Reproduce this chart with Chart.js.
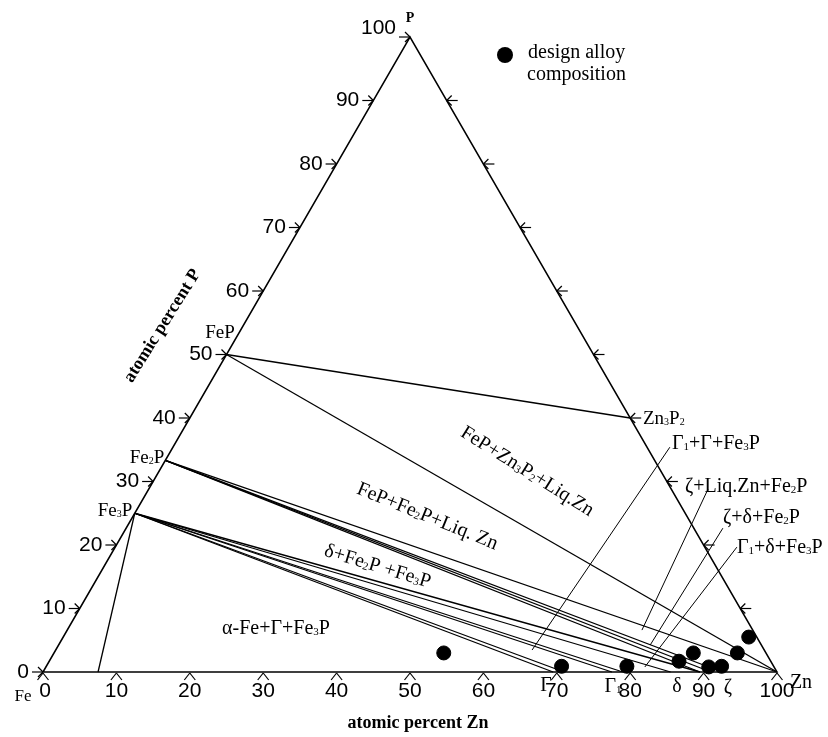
<!DOCTYPE html>
<html>
<head>
<meta charset="utf-8">
<script src="https://cdn.jsdelivr.net/npm/chart.js@4.4.1/dist/chart.umd.min.js"></script>
<style>
html, body { margin: 0; background: #fff; }
</style>
</head>
<body>
<canvas id="ternary" width="828" height="737"></canvas>
<script>
// compositions are [at.% Zn, at.% P], Fe makes up the rest
const corners = [[0, 0], [100, 0], [0, 100]];
const FeP = [0, 50];
const Fe2P = [0, 100 / 3];
const Fe3P = [0, 25];
const Zn3P2 = [60, 40];

// Zn content (on the Fe-Zn side) that each tie line from Fe3P / Fe2P runs to
const fe3pTies = [7.5, 69.5, 71, 77.5, 79, 85.5, 89.5];
const fe2pTies = [89.5, 91, 92.5, 100];

// leader lines from the right-hand labels into their regions
const leaderFromZn = [67.7, 76.2, 81.3, 84.7];
const leaderFromP = [35.4, 28.8, 22.65, 19.66];
const leaderToZn = [64.9, 78.3, 80.6, 81.6];
const leaderToP = [3.46, 6.6, 4.25, 0.79];

// design alloy compositions
const alloyZn = [53.1, 70.2, 79.1, 85.8, 87.1, 90.3, 92.0, 93.1, 93.4];
const alloyP = [3.0, 0.9, 0.9, 1.7, 3.0, 0.8, 0.9, 3.0, 5.5];

const tickValues = [0, 10, 20, 30, 40, 50, 60, 70, 80, 90, 100];

const H = Math.sqrt(3) / 2;
const SERIF = '"Liberation Serif", "Times New Roman", serif';
const SANS = '"Liberation Sans", Arial, sans-serif';

function xy(c) {
    return { x: c[0] + c[1] / 2, y: c[1] * H };
}

function seg(a, b) {
    return {
        type: 'scatter',
        showLine: true,
        data: [xy(a), xy(b)],
        borderColor: '#000',
        borderWidth: 1.3,
        pointRadius: 0,
        clip: false
    };
}

const datasets = [];
datasets.push({
    type: 'scatter',
    showLine: true,
    data: [xy(corners[0]), xy(corners[1]), xy(corners[2]), xy(corners[0])],
    borderColor: '#000',
    borderWidth: 1.5,
    pointRadius: 0,
    clip: false
});
datasets.push(seg(FeP, Zn3P2));
datasets.push(seg(FeP, corners[1]));
fe3pTies.forEach(z => datasets.push(seg(Fe3P, [z, 0])));
fe2pTies.forEach(z => datasets.push(seg(Fe2P, [z, 0])));
leaderFromZn.forEach((z, i) => {
    const d = seg([z, leaderFromP[i]], [leaderToZn[i], leaderToP[i]]);
    d.borderWidth = 1;
    datasets.push(d);
});
datasets.push({
    type: 'scatter',
    data: alloyZn.map((z, i) => xy([z, alloyP[i]])),
    backgroundColor: '#000',
    borderColor: '#000',
    pointRadius: 7,
    pointHoverRadius: 7,
    clip: false
});

// text with "_x" meaning a subscript x
function rich(ctx, s, x, y, size, opts = {}) {
    const bold = opts.bold ? 'bold ' : '';
    const fam = opts.family || SERIF;
    const big = bold + size + 'px ' + fam;
    const small = bold + Math.round(size * 0.55) + 'px ' + fam;
    const parts = [];
    for (let i = 0; i < s.length; i++) {
        if (s[i] === '_') { parts.push({ t: s[i + 1], sub: true }); i++; }
        else parts.push({ t: s[i], sub: false });
    }
    let w = 0;
    parts.forEach(p => {
        ctx.font = p.sub ? small : big;
        p.w = ctx.measureText(p.t).width;
        w += p.w;
    });
    ctx.save();
    ctx.translate(x, y);
    ctx.rotate((opts.rot || 0) * Math.PI / 180);
    ctx.textAlign = 'left';
    ctx.textBaseline = 'alphabetic';
    ctx.fillStyle = '#000';
    let cx = opts.align === 'left' ? 0 : opts.align === 'right' ? -w : -w / 2;
    const base = size * 0.35;
    parts.forEach(p => {
        ctx.font = p.sub ? small : big;
        ctx.fillText(p.t, cx, base + (p.sub ? size * 0.06 : 0));
        cx += p.w;
    });
    ctx.restore();
}

const decorations = {
    id: 'decorations',
    afterDatasetsDraw(chart) {
        const ctx = chart.ctx;
        const sx = chart.scales.x, sy = chart.scales.y;
        const px = c => {
            const p = xy(c);
            return [sx.getPixelForValue(p.x), sy.getPixelForValue(p.y)];
        };
        ctx.save();
        ctx.strokeStyle = '#000';
        ctx.lineWidth = 1.2;
        const line = (x1, y1, x2, y2) => {
            ctx.beginPath(); ctx.moveTo(x1, y1); ctx.lineTo(x2, y2); ctx.stroke();
        };
        tickValues.forEach(v => {
            // Zn axis along the bottom
            let [bx, by] = px([v, 0]);
            line(bx, by + 1, bx - 5.5, by + 8);
            line(bx, by + 1, bx + 5.5, by + 8);
            ctx.textAlign = 'center';
            ctx.textBaseline = 'middle';
            ctx.font = '21px ' + SANS;
            ctx.fillStyle = '#000';
            ctx.fillText(String(v), bx + (v === 0 ? 2 : 0), by + 19);
            // P axis on the left edge
            let [lx, ly] = px([0, v]);
            line(lx - 11, ly, lx, ly);
            line(lx, ly, lx - 5, ly - 5);
            line(lx, ly, lx - 5, ly + 5);
            ctx.textAlign = 'right';
            ctx.fillText(String(v), lx - 14, v === 100 ? ly - 9 : ly);
            // ticks on the P-Zn edge
            if (v > 0 && v < 100) {
                let [rx, ry] = px([100 - v, v]);
                line(rx, ry, rx + 11, ry);
                line(rx, ry, rx + 5, ry - 5);
                line(rx, ry, rx + 5, ry + 5);
            }
        });
        // legend symbol
        ctx.beginPath();
        ctx.arc(505, 55, 8, 0, Math.PI * 2);
        ctx.fillStyle = '#000';
        ctx.fill();
        ctx.restore();

        rich(ctx, 'design alloy', 528, 51, 20, { align: 'left' });
        rich(ctx, 'composition', 527, 73, 20, { align: 'left' });

        rich(ctx, 'P', 410, 17, 14, { bold: true });
        rich(ctx, 'Fe', 23, 695, 17);
        rich(ctx, 'Zn', 801, 681, 20);
        rich(ctx, 'FeP', 220, 331, 19);
        rich(ctx, 'Fe_2P', 147, 456, 19);
        rich(ctx, 'Fe_3P', 115, 509, 19);
        rich(ctx, 'Zn_3P_2', 643, 417, 19, { align: 'left' });

        rich(ctx, 'α-Fe+Γ+Fe_3P', 276, 627, 20);
        rich(ctx, 'δ+Fe_2P +Fe_3P', 378, 565, 20, { rot: 17 });
        rich(ctx, 'FeP+Fe_2P+Liq. Zn', 428, 515, 20, { rot: 22 });
        rich(ctx, 'FeP+Zn_3P_2+Liq.Zn', 528, 470, 20, { rot: 32 });

        rich(ctx, 'Γ_1+Γ+Fe_3P', 672, 442, 20, { align: 'left' });
        rich(ctx, 'ζ+Liq.Zn+Fe_2P', 685, 485, 20, { align: 'left' });
        rich(ctx, 'ζ+δ+Fe_2P', 723, 516, 20, { align: 'left' });
        rich(ctx, 'Γ_1+δ+Fe_3P', 737, 546, 20, { align: 'left' });

        rich(ctx, 'Γ', 546, 684, 20);
        rich(ctx, 'Γ_1', 613, 685, 20);
        rich(ctx, 'δ', 677, 685, 20);
        rich(ctx, 'ζ', 728, 686, 20);

        rich(ctx, 'atomic percent Zn', 418, 722, 18, { bold: true });
        rich(ctx, 'atomic percent P', 161, 325, 18, { bold: true, rot: -58 });
    }
};

new Chart(document.getElementById('ternary'), {
    type: 'scatter',
    data: { datasets: datasets },
    options: {
        responsive: false,
        animation: false,
        layout: { padding: { left: 43, right: 51, top: 37, bottom: 65 } },
        scales: {
            x: { type: 'linear', min: 0, max: 100, display: false },
            y: { type: 'linear', min: 0, max: 100 * H, display: false }
        },
        plugins: {
            legend: { display: false },
            tooltip: { enabled: false }
        },
        events: []
    },
    plugins: [decorations]
});
</script>
</body>
</html>
